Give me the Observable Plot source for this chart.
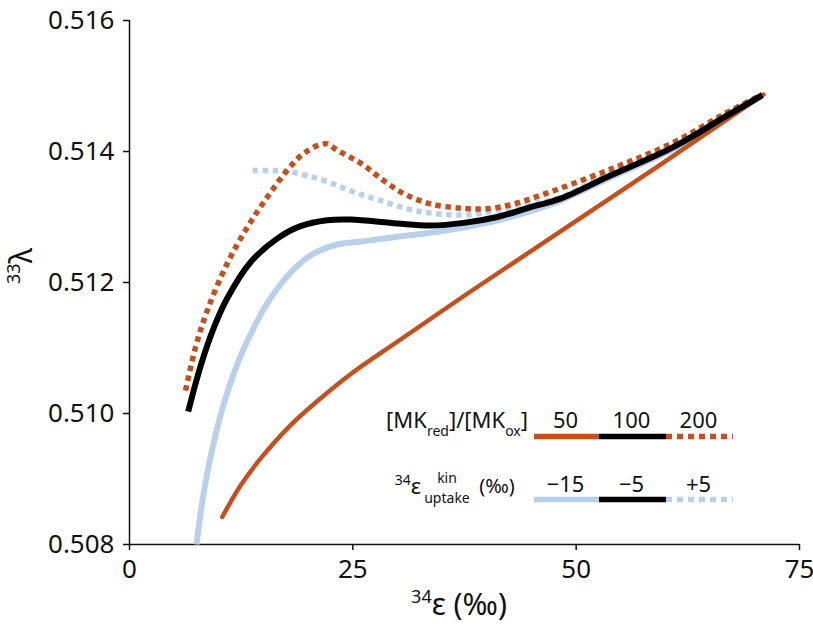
<!DOCTYPE html>
<html><head><meta charset="utf-8">
<script src="https://cdn.jsdelivr.net/npm/d3@7"></script>
<script src="https://cdn.jsdelivr.net/npm/@observablehq/plot@0.6"></script>
<style>
  body { margin: 0; background: #fff; }
  svg { font-family: "Noto Sans", sans-serif; }
</style>
</head>
<body>
<div id="chart"></div>
<script>
// ---- data ----
const xTicks = [0, 25, 50, 75];
const yTicks = [0.508, 0.510, 0.512, 0.514, 0.516];

// [MKred]/[MKox] = 50 (orange solid)
const ratio50X = [10.38, 12.43, 14.66, 18.02, 21.38, 24.74, 30.34, 37.39, 48.25, 59.44, 70.97];
const ratio50Y = [0.50842, 0.50890, 0.50931, 0.50982, 0.51023, 0.51060, 0.51113, 0.51179, 0.51278, 0.51380, 0.51487];

// reference: ratio 100 / uptake -5 (black)
const refX = [6.57, 7.95, 9.44, 10.94, 13.55, 16.53, 19.14, 22.13, 24.74, 29.97, 33.70, 37.42, 41.16, 44.89, 48.25, 53.48, 60.93, 66.53, 70.83];
const refY = [0.51003, 0.51072, 0.51131, 0.51176, 0.51231, 0.51267, 0.51286, 0.51295, 0.51296, 0.51290, 0.51287, 0.51291, 0.51300, 0.51315, 0.51328, 0.51361, 0.51407, 0.51452, 0.51486];

// ratio 200 (orange dotted)
const ratio200X = [6.27, 7.39, 8.70, 10.94, 13.18, 15.41, 17.65, 19.51, 21.94, 23.25, 24.74, 26.23, 27.73, 29.22, 31.09, 33.70, 37.42, 40.41, 43.02, 46.01, 53.48, 60.93, 66.53, 70.83];
const ratio200Y = [0.51035, 0.51101, 0.51157, 0.51229, 0.51284, 0.51330, 0.51371, 0.51397, 0.51412, 0.51402, 0.51391, 0.51379, 0.51363, 0.51348, 0.51333, 0.51320, 0.51313, 0.51313, 0.51320, 0.51333, 0.51371, 0.51414, 0.51457, 0.51487];

// uptake -15 (light blue solid)
const uptakeM15X = [7.50, 8.51, 10.19, 12.06, 13.92, 15.41, 16.90, 18.02, 19.89, 21.01, 23.25, 26.23, 29.97, 33.70, 37.42, 41.54, 47.13, 53.48, 60.93, 66.53, 70.83];
const uptakeM15Y = [0.50800, 0.50895, 0.50997, 0.51075, 0.51131, 0.51168, 0.51197, 0.51215, 0.51238, 0.51247, 0.51258, 0.51263, 0.51270, 0.51276, 0.51284, 0.51296, 0.51319, 0.51358, 0.51404, 0.51450, 0.51485];

// uptake +5 (light blue dotted)
const uptakeP5X = [13.77, 16.15, 18.02, 19.89, 22.13, 24.37, 26.23, 28.10, 29.97, 31.83, 33.70, 37.42, 41.16, 44.89, 48.25, 53.48, 60.93, 66.53, 70.83];
const uptakeP5Y = [0.51371, 0.51371, 0.51369, 0.51363, 0.51354, 0.51342, 0.51333, 0.51325, 0.51317, 0.51310, 0.51306, 0.51303, 0.51310, 0.51320, 0.51330, 0.51366, 0.51411, 0.51455, 0.51486];

const ratioLabels = ["50", "100", "200"];
const uptakeLabels = ["\u221215", "\u22125", "+5"];

// ---- styles ----
const ORANGE = "#c4501d";
const BLUE = "#b9d0ec";
const BLACK = "#000000";

const seriesDefs = [
  {name: "uptake -15", xs: uptakeM15X, ys: uptakeM15Y, stroke: BLUE, width: 6, dash: null},
  {name: "uptake +5", xs: uptakeP5X, ys: uptakeP5Y, stroke: BLUE, width: 5.5, dash: "5.5,4.5"},
  {name: "ratio 50", xs: ratio50X, ys: ratio50Y, stroke: ORANGE, width: 4.5, dash: null},
  {name: "ratio 200", xs: ratio200X, ys: ratio200Y, stroke: ORANGE, width: 5.5, dash: "5.5,4.5"},
  {name: "reference", xs: refX, ys: refY, stroke: BLACK, width: 6, dash: null}
];

const lineMarks = seriesDefs.map(s => {
  const rows = s.xs.map((x, i) => ({x, y: s.ys[i]}));
  return Plot.line(rows, {
    x: "x", y: "y", stroke: s.stroke, strokeWidth: s.width,
    strokeDasharray: s.dash || undefined,
    strokeLinecap: s.dash ? "butt" : (s.stroke === ORANGE ? "round" : "butt"),
    curve: "catmull-rom"
  });
});

const chart = Plot.plot({
  width: 813,
  height: 626,
  marginLeft: 129,
  marginRight: 14,
  marginTop: 20,
  marginBottom: 82,
  style: {fontFamily: '"Noto Sans", sans-serif', background: "#fff", color: "#111", overflow: "visible"},
  x: {domain: [0, 75]},
  y: {domain: [0.508, 0.516]},
  marks: [
    Plot.axisX({ticks: xTicks, tickSize: 6, tickPadding: 9, fontSize: 26, label: null, strokeWidth: 1.5, fill: "#111"}),
    Plot.axisY({ticks: yTicks, tickSize: 6, tickPadding: 9, fontSize: 26, label: null, strokeWidth: 1.5, tickFormat: d3.format(".3f"), fill: "#111"}),
    Plot.ruleX([0], {stroke: "#111", strokeWidth: 1.5}),
    Plot.ruleY([0.508], {stroke: "#111", strokeWidth: 1.5}),
    ...lineMarks
  ]
});

document.getElementById("chart").appendChild(chart);

// ---- axis titles and in-plot legend ----
const svg = d3.select(chart);
const ff = '"Noto Sans", sans-serif';

// x title: 34ε (‰)
const xt = svg.append("text").attr("x", 459).attr("y", 615).attr("text-anchor", "middle")
  .attr("font-family", ff).attr("font-size", 30).attr("fill", "#111");
xt.append("tspan").attr("font-size", 18).attr("dy", -12).text("34");
xt.append("tspan").attr("dy", 12).text("\u03B5 (\u2030)");

// y title: 33λ
const yt = svg.append("text").attr("transform", "translate(32,266) rotate(-90)")
  .attr("text-anchor", "middle").attr("font-family", ff).attr("font-size", 30).attr("fill", "#111");
yt.append("tspan").attr("font-size", 18).attr("dy", -12).text("33");
yt.append("tspan").attr("dy", 12).text("\u03BB");

// legend
const segX = [[534, 599], [599, 666], [666, 733]];
const row1Styles = [{stroke: ORANGE, dash: null}, {stroke: BLACK, dash: null}, {stroke: ORANGE, dash: "6,5"}];
const row2Styles = [{stroke: BLUE, dash: null}, {stroke: BLACK, dash: null}, {stroke: BLUE, dash: "6,5"}];
const rows = [
  {lineY: 436.5, textY: 428, labels: ratioLabels, styles: row1Styles},
  {lineY: 499.5, textY: 492, labels: uptakeLabels, styles: row2Styles}
];
rows.forEach(r => {
  r.labels.forEach((lab, i) => {
    const [a, b] = segX[i];
    svg.append("line").attr("x1", a).attr("x2", b).attr("y1", r.lineY).attr("y2", r.lineY)
      .attr("stroke", r.styles[i].stroke).attr("stroke-width", 5.5)
      .attr("stroke-dasharray", r.styles[i].dash);
    svg.append("text").attr("x", (a + b) / 2 - 1).attr("y", r.textY).attr("text-anchor", "middle")
      .attr("font-family", ff).attr("font-size", 22).attr("fill", "#111").text(lab);
  });
});

// row 1 title [MKred]/[MKox]
const t1 = svg.append("text").attr("x", 528).attr("y", 428).attr("text-anchor", "end")
  .attr("font-family", ff).attr("font-size", 22).attr("fill", "#111");
t1.append("tspan").text("[MK");
t1.append("tspan").attr("font-size", 14).attr("dy", 8).text("red");
t1.append("tspan").attr("dy", -8).text("]/[MK");
t1.append("tspan").attr("font-size", 14).attr("dy", 8).text("ox");
t1.append("tspan").attr("dy", -8).text("]");

// row 2 title 34ε uptake^kin (‰)
const eps = svg.append("text").attr("x", 408).attr("y", 494).attr("font-family", ff)
  .attr("font-size", 22).attr("fill", "#111");
eps.append("tspan").attr("font-size", 14).attr("dy", -9).text("34");
eps.append("tspan").attr("dy", 9).text("\u03B5");
const small = (x, y, s) => svg.append("text").attr("x", x).attr("y", y).attr("font-family", ff)
  .attr("font-size", 14).attr("fill", "#111").text(s);
small(447, 483, "kin");
small(447, 503, "uptake");
svg.append("text").attr("x", 497).attr("y", 493).attr("font-family", ff).attr("font-size", 20)
  .attr("fill", "#111").text("(\u2030)");
</script>
</body></html>
